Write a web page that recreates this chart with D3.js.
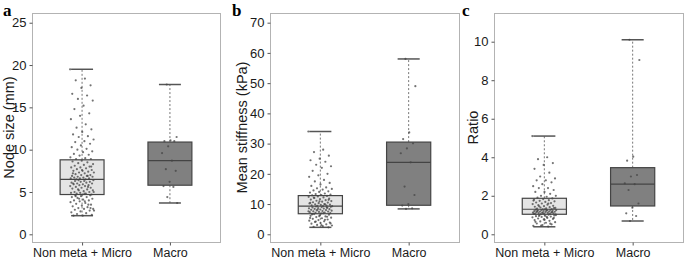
<!DOCTYPE html>
<html>
<head>
<meta charset="utf-8">
<script src="https://cdn.jsdelivr.net/npm/d3@7"></script>
<style>
  body { margin: 0; background: #fff; }
  svg { display: block; }
</style>
</head>
<body>
<svg id="chart"></svg>
<script>
const categories = ["Non meta + Micro", "Macro"];

// box stats: [lowWhisker, q1, median, q3, highWhisker]
const nodeSizeStats = [[2.2, 4.7, 6.5, 8.8, 19.5], [3.7, 5.8, 8.7, 10.9, 17.7]];
const stiffnessStats = [[2.3, 6.8, 9.3, 12.8, 34.0], [8.4, 9.6, 23.8, 30.5, 58.0]];
const ratioStats = [[0.39, 1.04, 1.30, 1.87, 5.1], [0.69, 1.47, 2.6, 3.46, 10.1]];

// individual observations (estimated)
const nodeSizeMicro = [19.5, 18.4, 18.2, 17.6, 17.3, 16.6, 16.4, 16.0, 15.8, 15.2, 14.8, 14.3, 14.0, 13.6,
  13.0, 12.6, 12.4, 12.1, 11.8, 11.6, 11.5, 11.2, 11.0, 10.9, 10.7, 10.5, 10.3, 10.1, 10.0, 9.8, 9.7, 9.5,
  9.4, 9.3, 9.1, 9.0, 8.9, 8.9, 8.7, 8.6, 8.5, 8.4, 8.3, 8.2, 8.1, 8.0, 7.9, 7.9, 7.8, 7.7, 7.6, 7.5, 7.5,
  7.4, 7.3, 7.3, 7.2, 7.1, 7.0, 7.0, 6.9, 6.9, 6.8, 6.8, 6.7, 6.7, 6.6, 6.6, 6.6, 6.5, 6.5, 8.0, 7.6, 7.2,
  6.9, 6.4, 6.4, 6.3, 6.3, 6.2, 6.2, 6.1, 6.1, 6.0, 6.0, 5.9, 5.9, 5.8, 5.8, 5.7, 5.7, 5.6, 5.5, 5.5, 5.4,
  5.3, 5.3, 5.2, 5.1, 5.0, 5.0, 4.9, 4.9, 4.8, 4.8, 4.7, 4.7, 6.0, 5.6, 5.2, 5.0, 4.8, 4.6, 4.6, 4.5, 4.4,
  4.4, 4.3, 4.2, 4.1, 4.0, 4.0, 3.9, 3.8, 3.7, 3.6, 3.5, 3.4, 3.3, 3.2, 3.1, 3.0, 3.0, 2.9, 2.8, 2.7, 2.6,
  2.5, 2.4, 2.3, 2.2, 2.2, 3.5, 4.2, 2.8, 3.9, 4.5, 3.1];
const nodeSizeMacro = [17.7, 11.5, 11.1, 11.0, 11.0, 10.4, 9.6, 8.7, 7.7, 7.5, 6.2, 5.7, 5.6, 4.4, 3.7];

const stiffnessMicro = [34.0, 28.0, 27.2, 26.0, 25.0, 24.5, 24.0, 23.0, 22.5, 22.0, 21.0, 20.0, 19.5, 19.0,
  18.0, 17.5, 17.0, 16.5, 16.0, 15.5, 15.2, 15.0, 14.8, 14.5, 14.2, 14.0, 13.8, 13.5, 13.3, 13.1, 13.0,
  12.9, 12.7, 12.5, 12.4, 12.2, 12.0, 11.8, 11.6, 11.5, 11.3, 11.1, 11.0, 10.8, 10.6, 10.5, 10.3, 10.2,
  10.0, 9.9, 9.8, 9.7, 9.6, 9.5, 9.4, 9.3, 9.3, 12.1, 11.4, 10.9, 10.4, 9.9, 9.2, 9.1, 9.0, 8.9, 8.8,
  8.7, 8.6, 8.5, 8.4, 8.3, 8.2, 8.1, 8.0, 7.9, 7.8, 7.7, 7.6, 7.5, 7.4, 7.3, 7.2, 7.1, 7.0, 6.9, 6.8,
  8.8, 8.2, 7.6, 7.0, 6.7, 6.5, 6.3, 6.1, 5.9, 5.7, 5.5, 5.3, 5.1, 4.9, 4.7, 4.5, 4.3, 4.1, 3.9, 3.7,
  3.5, 3.3, 3.1, 2.9, 2.7, 2.5, 2.3, 6.0, 5.4, 4.8, 4.2, 3.6, 3.0, 6.6, 5.8];
const stiffnessMacro = [58.0, 49.0, 33.7, 31.5, 30.1, 28.4, 26.8, 23.8, 15.8, 13.0, 10.0, 9.5, 8.6, 8.4];

const ratioMicro = [5.1, 4.0, 3.9, 3.7, 3.6, 3.4, 3.2, 3.0, 2.9, 2.8, 2.8, 2.7, 2.6, 2.5, 2.4, 2.4, 2.3,
  2.2, 2.2, 2.1, 2.0, 2.0, 1.95, 1.9, 1.86, 1.83, 1.8, 1.77, 1.74, 1.71, 1.68, 1.65, 1.62, 1.6, 1.57,
  1.54, 1.51, 1.48, 1.46, 1.43, 1.41, 1.39, 1.37, 1.35, 1.33, 1.31, 1.30, 1.75, 1.6, 1.45, 1.36, 1.29,
  1.28, 1.27, 1.26, 1.25, 1.24, 1.23, 1.22, 1.21, 1.20, 1.19, 1.18, 1.17, 1.16, 1.15, 1.14, 1.13, 1.12,
  1.11, 1.10, 1.09, 1.08, 1.07, 1.06, 1.05, 1.04, 1.25, 1.2, 1.15, 1.1, 1.06, 1.02, 1.0, 0.98, 0.96,
  0.94, 0.92, 0.9, 0.88, 0.85, 0.82, 0.8, 0.77, 0.74, 0.7, 0.67, 0.63, 0.6, 0.56, 0.52, 0.48, 0.44,
  0.4, 0.95, 0.85, 0.75, 0.65, 0.55, 0.45, 1.0, 0.9];
const ratioMacro = [10.1, 9.05, 4.03, 3.82, 3.08, 3.0, 2.65, 2.6, 2.3, 1.6, 1.38, 1.09, 0.95, 0.69];

const panels = [
  { letter: "a", title: "Node size (mm)", stats: nodeSizeStats, points: [nodeSizeMicro, nodeSizeMacro],
    ticks: [0, 5, 10, 15, 20, 25], domain: [-0.91, 26.15], left: 32, right: 220, titleX: 9, letterX: 3 },
  { letter: "b", title: "Mean stiffness (kPa)", stats: stiffnessStats, points: [stiffnessMicro, stiffnessMacro],
    ticks: [0, 10, 20, 30, 40, 50, 60, 70], domain: [-2.55, 73.2], left: 270, right: 459, titleX: 242, letterX: 232 },
  { letter: "c", title: "Ratio", stats: ratioStats, points: [ratioMicro, ratioMacro],
    ticks: [0, 2, 4, 6, 8, 10], domain: [-0.4, 11.49], left: 494, right: 683, titleX: 473, letterX: 462 }
];

const width = 685, height = 262;
const plotTop = 13, plotBottom = 242;
const boxFill = ["#e4e4e4", "#808080"];
const textColor = "#1a1a1a";

const svg = d3.select("#chart").attr("width", width).attr("height", height)
  .style("font-family", "'Liberation Sans', Arial, sans-serif");

panels.forEach(p => {
  const x = d3.scalePoint().domain(categories).range([p.left, p.right]).padding(0.57);
  const y = d3.scaleLinear().domain(p.domain).range([plotBottom, plotTop]);
  const boxW = x.step() * 0.5;
  const g = svg.append("g");

  // frame
  g.append("rect")
    .attr("x", p.left + 0.5).attr("y", plotTop + 0.5)
    .attr("width", p.right - p.left).attr("height", plotBottom - plotTop)
    .attr("fill", "none").attr("stroke", "#b3b3b3");

  // y axis
  const yAxis = g.append("g")
    .attr("transform", `translate(${p.left + 0.5},0)`)
    .call(d3.axisLeft(y).tickValues(p.ticks).tickSize(3).tickPadding(3));
  yAxis.select(".domain").remove();
  yAxis.selectAll("line").attr("stroke", "#555");
  yAxis.selectAll("text").attr("fill", textColor)
    .style("font-size", "13px").style("font-family", "'Liberation Sans', Arial, sans-serif");

  // x axis
  const xAxis = g.append("g")
    .attr("transform", `translate(0,${plotBottom + 0.5})`)
    .call(d3.axisBottom(x).tickSize(3).tickPadding(3));
  xAxis.select(".domain").remove();
  xAxis.selectAll("line").attr("stroke", "#555");
  xAxis.selectAll("text").attr("fill", textColor)
    .style("font-size", "12.5px").style("font-family", "'Liberation Sans', Arial, sans-serif");

  // boxes
  categories.forEach((cat, i) => {
    const [lo, q1, med, q3, hi] = p.stats[i];
    const cx = x(cat);

    g.append("line").attr("x1", cx).attr("x2", cx).attr("y1", y(q3)).attr("y2", y(hi))
      .attr("stroke", "#777").attr("stroke-dasharray", "2,2");
    g.append("line").attr("x1", cx).attr("x2", cx).attr("y1", y(q1)).attr("y2", y(lo))
      .attr("stroke", "#777").attr("stroke-dasharray", "2,2");
    [lo, hi].forEach(v => {
      g.append("line").attr("x1", cx - boxW / 4).attr("x2", cx + boxW / 4)
        .attr("y1", y(v)).attr("y2", y(v)).attr("stroke", "#555").attr("stroke-width", 1.5);
    });

    g.append("rect")
      .attr("x", cx - boxW / 2).attr("y", y(q3))
      .attr("width", boxW).attr("height", y(q1) - y(q3))
      .attr("fill", boxFill[i]).attr("stroke", "#444").attr("stroke-width", 1.2);
    g.append("line").attr("x1", cx - boxW / 2).attr("x2", cx + boxW / 2)
      .attr("y1", y(med)).attr("y2", y(med)).attr("stroke", "#444").attr("stroke-width", 1.2);

    // jittered points (deterministic spread)
    const spread = i === 0 ? 12 : 8;
    g.append("g").selectAll("circle")
      .data(p.points[i])
      .join("circle")
      .attr("cx", (d, k) => cx + (((k * 0.618034 + i * 0.3) % 1) - 0.5) * 2 * spread)
      .attr("cy", d => y(d))
      .attr("r", 1.1)
      .attr("fill", "#444")
      .attr("fill-opacity", 0.75);
  });

  // axis title
  g.append("text")
    .attr("transform", `translate(${p.titleX + 5},${(plotTop + plotBottom) / 2}) rotate(-90)`)
    .attr("text-anchor", "middle")
    .attr("fill", textColor)
    .style("font-size", "14.5px")
    .text(p.title);

  // panel letter
  g.append("text")
    .attr("x", p.letterX).attr("y", 16)
    .attr("fill", "#000")
    .style("font-family", "'Liberation Serif', 'Times New Roman', serif")
    .style("font-weight", "bold")
    .style("font-size", "17px")
    .text(p.letter);
});
</script>
</body>
</html>
